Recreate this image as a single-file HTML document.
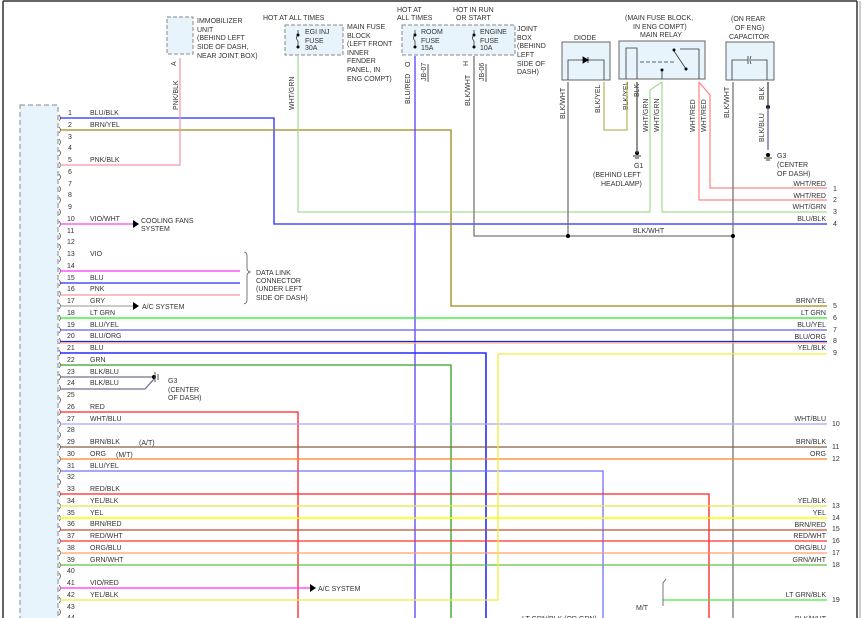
<!DOCTYPE html>
<html><head><meta charset="utf-8"><style>
html,body{margin:0;padding:0;background:#fff}
svg{display:block}
text{font-family:"Liberation Sans",sans-serif;font-size:7px;fill:#333}
</style></head><body>
<svg width="862" height="618" viewBox="0 0 862 618" xmlns="http://www.w3.org/2000/svg">
<rect x="0" y="0" width="862" height="618" fill="#fff"/>
<line x1="3" y1="1" x2="857" y2="1" stroke="#333" stroke-width="1.5"/>
<line x1="3" y1="1" x2="3" y2="618" stroke="#333" stroke-width="1.5"/>
<line x1="857" y1="1" x2="857" y2="618" stroke="#333" stroke-width="1.5"/>
<line x1="860" y1="1" x2="860" y2="618" stroke="#999" stroke-width="1"/>

<!-- left connector -->
<rect x="20" y="105" width="38" height="520" fill="#e8f4fb" stroke="#888" stroke-dasharray="5,3"/>
<g fill="none" stroke="#555" stroke-width="0.8">
<path d="M59,115 q3,3 0,6 M59,127 q3,3 0,6 M59,139 q3,3 0,6 M59,150 q3,3 0,6 M59,162 q3,3 0,6 M59,174 q3,3 0,6 M59,186 q3,3 0,6 M59,197 q3,3 0,6 M59,209 q3,3 0,6 M59,221 q3,3 0,6 M59,233 q3,3 0,6 M59,244 q3,3 0,6 M59,256 q3,3 0,6 M59,268 q3,3 0,6 M59,280 q3,3 0,6 M59,291 q3,3 0,6 M59,303 q3,3 0,6 M59,315 q3,3 0,6 M59,327 q3,3 0,6 M59,338 q3,3 0,6 M59,350 q3,3 0,6 M59,362 q3,3 0,6 M59,374 q3,3 0,6 M59,385 q3,3 0,6 M59,397 q3,3 0,6 M59,409 q3,3 0,6 M59,421 q3,3 0,6 M59,432 q3,3 0,6 M59,444 q3,3 0,6 M59,456 q3,3 0,6 M59,468 q3,3 0,6 M59,479 q3,3 0,6 M59,491 q3,3 0,6 M59,503 q3,3 0,6 M59,515 q3,3 0,6 M59,526 q3,3 0,6 M59,538 q3,3 0,6 M59,550 q3,3 0,6 M59,562 q3,3 0,6 M59,573 q3,3 0,6 M59,585 q3,3 0,6 M59,597 q3,3 0,6 M59,609 q3,3 0,6"/>
</g>
<!-- pin numbers -->
<g>
<text x="68" y="115">1</text><text x="68" y="127">2</text><text x="68" y="139">3</text><text x="68" y="150">4</text><text x="68" y="162">5</text><text x="68" y="174">6</text><text x="68" y="186">7</text><text x="68" y="197">8</text><text x="68" y="209">9</text><text x="67" y="221">10</text><text x="67" y="233">11</text><text x="67" y="244">12</text><text x="67" y="256">13</text><text x="67" y="268">14</text><text x="67" y="280">15</text><text x="67" y="291">16</text><text x="67" y="303">17</text><text x="67" y="315">18</text><text x="67" y="327">19</text><text x="67" y="338">20</text><text x="67" y="350">21</text><text x="67" y="362">22</text><text x="67" y="374">23</text><text x="67" y="385">24</text><text x="67" y="397">25</text><text x="67" y="409">26</text><text x="67" y="421">27</text><text x="67" y="432">28</text><text x="67" y="444">29</text><text x="67" y="456">30</text><text x="67" y="468">31</text><text x="67" y="479">32</text><text x="67" y="491">33</text><text x="67" y="503">34</text><text x="67" y="515">35</text><text x="67" y="526">36</text><text x="67" y="538">37</text><text x="67" y="550">38</text><text x="67" y="562">39</text><text x="67" y="573">40</text><text x="67" y="585">41</text><text x="67" y="597">42</text><text x="67" y="609">43</text><text x="67" y="620">44</text>
</g>
<g>
<text x="90" y="115">BLU/BLK</text><text x="90" y="127">BRN/YEL</text><text x="90" y="162">PNK/BLK</text><text x="90" y="221">VIO/WHT</text><text x="90" y="256">VIO</text><text x="90" y="280">BLU</text><text x="90" y="291">PNK</text><text x="90" y="303">GRY</text><text x="90" y="315">LT GRN</text><text x="90" y="327">BLU/YEL</text><text x="90" y="338">BLU/ORG</text><text x="90" y="350">BLU</text><text x="90" y="362">GRN</text><text x="90" y="374">BLK/BLU</text><text x="90" y="385">BLK/BLU</text><text x="90" y="409">RED</text><text x="90" y="421">WHT/BLU</text><text x="90" y="444">BRN/BLK</text><text x="139" y="445">(A/T)</text><text x="90" y="456">ORG</text><text x="116" y="457">(M/T)</text><text x="90" y="468">BLU/YEL</text><text x="90" y="491">RED/BLK</text><text x="90" y="503">YEL/BLK</text><text x="90" y="515">YEL</text><text x="90" y="526">BRN/RED</text><text x="90" y="538">RED/WHT</text><text x="90" y="550">ORG/BLU</text><text x="90" y="562">GRN/WHT</text><text x="90" y="585">VIO/RED</text><text x="90" y="597">YEL/BLK</text>
</g>

<!-- top components -->
<rect x="167" y="17" width="26" height="37" fill="#e8f4fb" stroke="#888" stroke-dasharray="4,2"/>
<text x="197" y="23">IMMOBILIZER</text><text x="197" y="32">UNIT</text><text x="197" y="40">(BEHIND LEFT</text><text x="197" y="49">SIDE OF DASH,</text><text x="197" y="58">NEAR JOINT BOX)</text>
<text x="172" y="104" transform="rotate(-90 178 104)">PNK/BLK</text>
<text x="176" y="66" transform="rotate(-90 176 66)">A</text>

<text x="263" y="20">HOT AT ALL TIMES</text>
<rect x="285" y="25" width="58" height="30" fill="#e8f4fb" stroke="#888" stroke-dasharray="4,2"/>
<text x="305" y="34">EGI INJ</text><text x="305" y="43">FUSE</text><text x="305" y="50">30A</text>
<text x="347" y="29">MAIN FUSE</text><text x="347" y="38">BLOCK</text><text x="347" y="46">(LEFT FRONT</text><text x="347" y="55">INNER</text><text x="347" y="63">FENDER</text><text x="347" y="72">PANEL, IN</text><text x="347" y="81">ENG COMPT)</text>
<text x="294" y="110" transform="rotate(-90 294 110)">WHT/GRN</text>

<text x="397" y="12">HOT AT</text><text x="397" y="20">ALL TIMES</text>
<text x="453" y="12">HOT IN RUN</text><text x="456" y="20">OR START</text>
<rect x="402" y="25" width="113" height="30" fill="#e8f4fb" stroke="#888" stroke-dasharray="4,2"/>
<text x="421" y="34">ROOM</text><text x="421" y="43">FUSE</text><text x="421" y="50">15A</text>
<text x="480" y="34">ENGINE</text><text x="480" y="43">FUSE</text><text x="480" y="50">10A</text>
<text x="517" y="31">JOINT</text><text x="517" y="40">BOX</text><text x="517" y="48">(BEHIND</text><text x="517" y="57">LEFT</text><text x="517" y="66">SIDE OF</text><text x="517" y="74">DASH)</text>
<text x="410" y="104" transform="rotate(-90 410 104)">BLU/RED</text>
<text x="410" y="67" transform="rotate(-90 410 67)">O</text>
<text x="426" y="81" transform="rotate(-90 426 81)">JB-07</text>
<line x1="428" y1="64" x2="428" y2="82" stroke="#555"/>
<text x="470" y="106" transform="rotate(-90 470 106)">BLK/WHT</text>
<text x="468" y="66" transform="rotate(-90 468 66)">H</text>
<text x="484" y="81" transform="rotate(-90 484 81)">JB-06</text>
<line x1="486" y1="64" x2="486" y2="82" stroke="#555"/>
<g fill="none" stroke="#333" stroke-width="0.8">
<path d="M298,30 v5 q-3,3 0,6 v6 M415,30 v5 q-3,3 0,6 v6 M474,30 v5 q-3,3 0,6 v6"/>
</g>
<g fill="#000"><circle cx="298" cy="35" r="1.5"/><circle cx="298" cy="47" r="1.5"/><circle cx="415" cy="35" r="1.5"/><circle cx="415" cy="47" r="1.5"/><circle cx="474" cy="35" r="1.5"/><circle cx="474" cy="47" r="1.5"/></g>

<!-- diode -->
<text x="574" y="40">DIODE</text>
<rect x="562" y="42" width="48" height="38" fill="#e8f4fb" stroke="#666"/>
<path d="M568,80 V60 H604 V80" fill="none" stroke="#333" stroke-width="0.8"/>
<path d="M583,57 l5,3 l-5,3z M588,57 v6" fill="#000" stroke="#000" stroke-width="0.8"/>
<text x="565" y="119" transform="rotate(-90 565 119)">BLK/WHT</text>
<text x="600" y="113" transform="rotate(-90 600 113)">BLK/YEL</text>

<!-- relay -->
<text x="625" y="20">(MAIN FUSE BLOCK,</text><text x="633" y="29">IN ENG COMPT)</text><text x="640" y="37">MAIN RELAY</text>
<rect x="619" y="41" width="86" height="38" fill="#e8f4fb" stroke="#666"/>
<g fill="none" stroke="#333" stroke-width="0.8">
<path d="M626,79 V48 H637 V79"/>
<path d="M640,62 H676" stroke-dasharray="4,2"/>
<path d="M674,51 L686,69 M680,49 H699 V79"/>
<path d="M662,70 V79"/>
</g>
<g fill="#000"><circle cx="674" cy="50" r="1.5"/><circle cx="686" cy="69" r="1.5"/><circle cx="662" cy="70" r="1.5"/></g>
<text x="628" y="110" transform="rotate(-90 628 110)">BLK/YEL</text>
<text x="639" y="97" transform="rotate(-90 639 97)">BLK</text>
<text x="648" y="132" transform="rotate(-90 648 132)">WHT/GRN</text>
<text x="659" y="132" transform="rotate(-90 659 132)">WHT/GRN</text>
<text x="695" y="132" transform="rotate(-90 695 132)">WHT/RED</text>
<text x="706" y="132" transform="rotate(-90 706 132)">WHT/RED</text>
<circle cx="637" cy="153" r="2" fill="#000"/><path d="M633,156 h8 M635,158 h4" stroke="#333"/>
<text x="634" y="168">G1</text><text x="593" y="177">(BEHIND LEFT</text><text x="601" y="186">HEADLAMP)</text>

<!-- capacitor -->
<text x="731" y="21">(ON REAR</text><text x="735" y="30">OF ENG)</text><text x="729" y="39">CAPACITOR</text>
<rect x="726" y="42" width="48" height="38" fill="#e8f4fb" stroke="#666"/>
<path d="M732,80 V60 H748 M751,60 H767 V80 M748,56 v8 M751,56 q-2,4 0,8" fill="none" stroke="#333" stroke-width="0.8"/>
<text x="729" y="118" transform="rotate(-90 729 118)">BLK/WHT</text>
<text x="764" y="100" transform="rotate(-90 764 100)">BLK</text>
<text x="764" y="142" transform="rotate(-90 764 142)">BLK/BLU</text>
<circle cx="768" cy="107" r="2" fill="#000"/><circle cx="768" cy="155" r="2" fill="#000"/><path d="M764,158 h8 M766,160 h4" stroke="#333"/>
<text x="777" y="158">G3</text><text x="777" y="167">(CENTER</text><text x="777" y="176">OF DASH)</text>

<!-- wires -->
<g fill="none" stroke-width="1.3">
<path d="M60,118 H274 V224 H827" stroke="#2a2aff"/>
<path d="M60,130 H451 V306 H827" stroke="#a08818"/>
<path d="M60,165 H180 V58" stroke="#f29aa8"/>
<path d="M298,56 V212 H650 V90 L662,82" stroke="#a8dc98"/>
<path d="M662,82 V212 H827" stroke="#a8dc98"/>
<path d="M699,82 V200 H827" stroke="#ff8888"/>
<path d="M699,82 L710,95 V188 H827" stroke="#ff8888"/>
<path d="M415,56 V618" stroke="#5a40ff"/>
<path d="M474,56 V236 H733" stroke="#777"/>
<path d="M568,82 V236" stroke="#777"/>
<path d="M733,82 V618" stroke="#777"/>
<path d="M604,82 V130 H627 V82" stroke="#b8b860"/>
<path d="M637,82 V153" stroke="#555"/>
<path d="M768,82 V107" stroke="#444"/>
<path d="M768,107 V150" stroke="#6060a0"/>
<path d="M60,224 H133" stroke="#ff40ff"/>
<path d="M60,271 H240" stroke="#ff30ff"/>
<path d="M60,283 H240" stroke="#2a2aff"/>
<path d="M60,295 H240" stroke="#f29aa8"/>
<path d="M60,306 H133" stroke="#aaa"/>
<path d="M60,318 H827" stroke="#22ee22"/>
<path d="M60,330 H827" stroke="#6060e0"/>
<path d="M60,343 H827" stroke="#ffb090"/>
<path d="M60,341.5 H827" stroke="#2020e0"/>
<path d="M60,353 H486 V618" stroke="#2a2aff" stroke-width="1.6"/>
<path d="M60,365 H451 V618" stroke="#30a020"/>
<path d="M60,377 H154" stroke="#707090"/>
<path d="M60,389 H145 L154,379" stroke="#707090"/>
<path d="M60,412 H298 V618" stroke="#ff2020"/>
<path d="M60,424 H827" stroke="#a8a8ff"/>
<path d="M60,447 H827" stroke="#806040"/>
<path d="M60,459 H827" stroke="#ff8020"/>
<path d="M60,471 H603 V618" stroke="#7070ff"/>
<path d="M60,494 H709 V618" stroke="#ff2020"/>
<path d="M60,506 H827" stroke="#e8e840"/>
<path d="M60,518 H827" stroke="#ffff00" stroke-width="1.6"/>
<path d="M60,530 H827" stroke="#c05030"/>
<path d="M60,541 H827" stroke="#ff3030"/>
<path d="M60,553 H827" stroke="#ffa070"/>
<path d="M60,565 H827" stroke="#60c040"/>
<path d="M60,588 H310" stroke="#ff30ff"/>
<path d="M60,600 H498 V354 H827" stroke="#eeee40"/>
<path d="M663,600 H827" stroke="#40ee40"/>
</g>
<g fill="#000">
<circle cx="568" cy="236" r="2"/><circle cx="733" cy="236" r="2"/>
<circle cx="154" cy="377" r="2"/>
<path d="M133,220 l6,4 l-6,4z M133,302 l6,4 l-6,4z M310,584 l6,4 l-6,4z"/>
</g>
<path d="M155,372 v10 M158,374 v6" stroke="#555"/>
<path d="M244,252 q3,0 3,4 v12 q0,3 3,4 q-3,1 -3,4 v24 q0,3 -3,4" fill="none" stroke="#555" stroke-width="0.8"/>
<path d="M663,606 V583 l3,-4" fill="none" stroke="#555" stroke-width="0.8"/>

<!-- side labels -->
<text x="141" y="223">COOLING FANS</text><text x="141" y="231">SYSTEM</text>
<text x="142" y="309">A/C SYSTEM</text>
<text x="256" y="275">DATA LINK</text><text x="256" y="283">CONNECTOR</text><text x="256" y="291">(UNDER LEFT</text><text x="256" y="300">SIDE OF DASH)</text>
<text x="168" y="383">G3</text><text x="168" y="392">(CENTER</text><text x="168" y="400">OF DASH)</text>
<text x="318" y="591">A/C SYSTEM</text>
<text x="636" y="610">M/T</text>
<text x="633" y="233">BLK/WHT</text>
<text x="522" y="621">LT GRN/BLK (OR GRN)</text>

<!-- right labels -->
<g text-anchor="end">
<text x="826" y="186">WHT/RED</text><text x="826" y="198">WHT/RED</text><text x="826" y="209">WHT/GRN</text><text x="826" y="221">BLU/BLK</text>
<text x="826" y="303">BRN/YEL</text><text x="826" y="315">LT GRN</text><text x="826" y="327">BLU/YEL</text><text x="826" y="339">BLU/ORG</text><text x="826" y="350">YEL/BLK</text>
<text x="826" y="421">WHT/BLU</text><text x="826" y="444">BRN/BLK</text><text x="826" y="456">ORG</text>
<text x="826" y="503">YEL/BLK</text><text x="826" y="515">YEL</text><text x="826" y="527">BRN/RED</text><text x="826" y="538">RED/WHT</text><text x="826" y="550">ORG/BLU</text><text x="826" y="562">GRN/WHT</text>
<text x="826" y="597">LT GRN/BLK</text><text x="826" y="621">BLK/WHT</text>
</g>
<g>
<text x="833" y="191">1</text><text x="833" y="202">2</text><text x="833" y="214">3</text><text x="833" y="226">4</text>
<text x="833" y="308">5</text><text x="833" y="320">6</text><text x="833" y="332">7</text><text x="833" y="343">8</text><text x="833" y="355">9</text>
<text x="832" y="426">10</text><text x="832" y="449">11</text><text x="832" y="461">12</text>
<text x="832" y="508">13</text><text x="832" y="520">14</text><text x="832" y="531">15</text><text x="832" y="543">16</text><text x="832" y="555">17</text><text x="832" y="567">18</text><text x="832" y="602">19</text>
</g>
</svg>
</body></html>
